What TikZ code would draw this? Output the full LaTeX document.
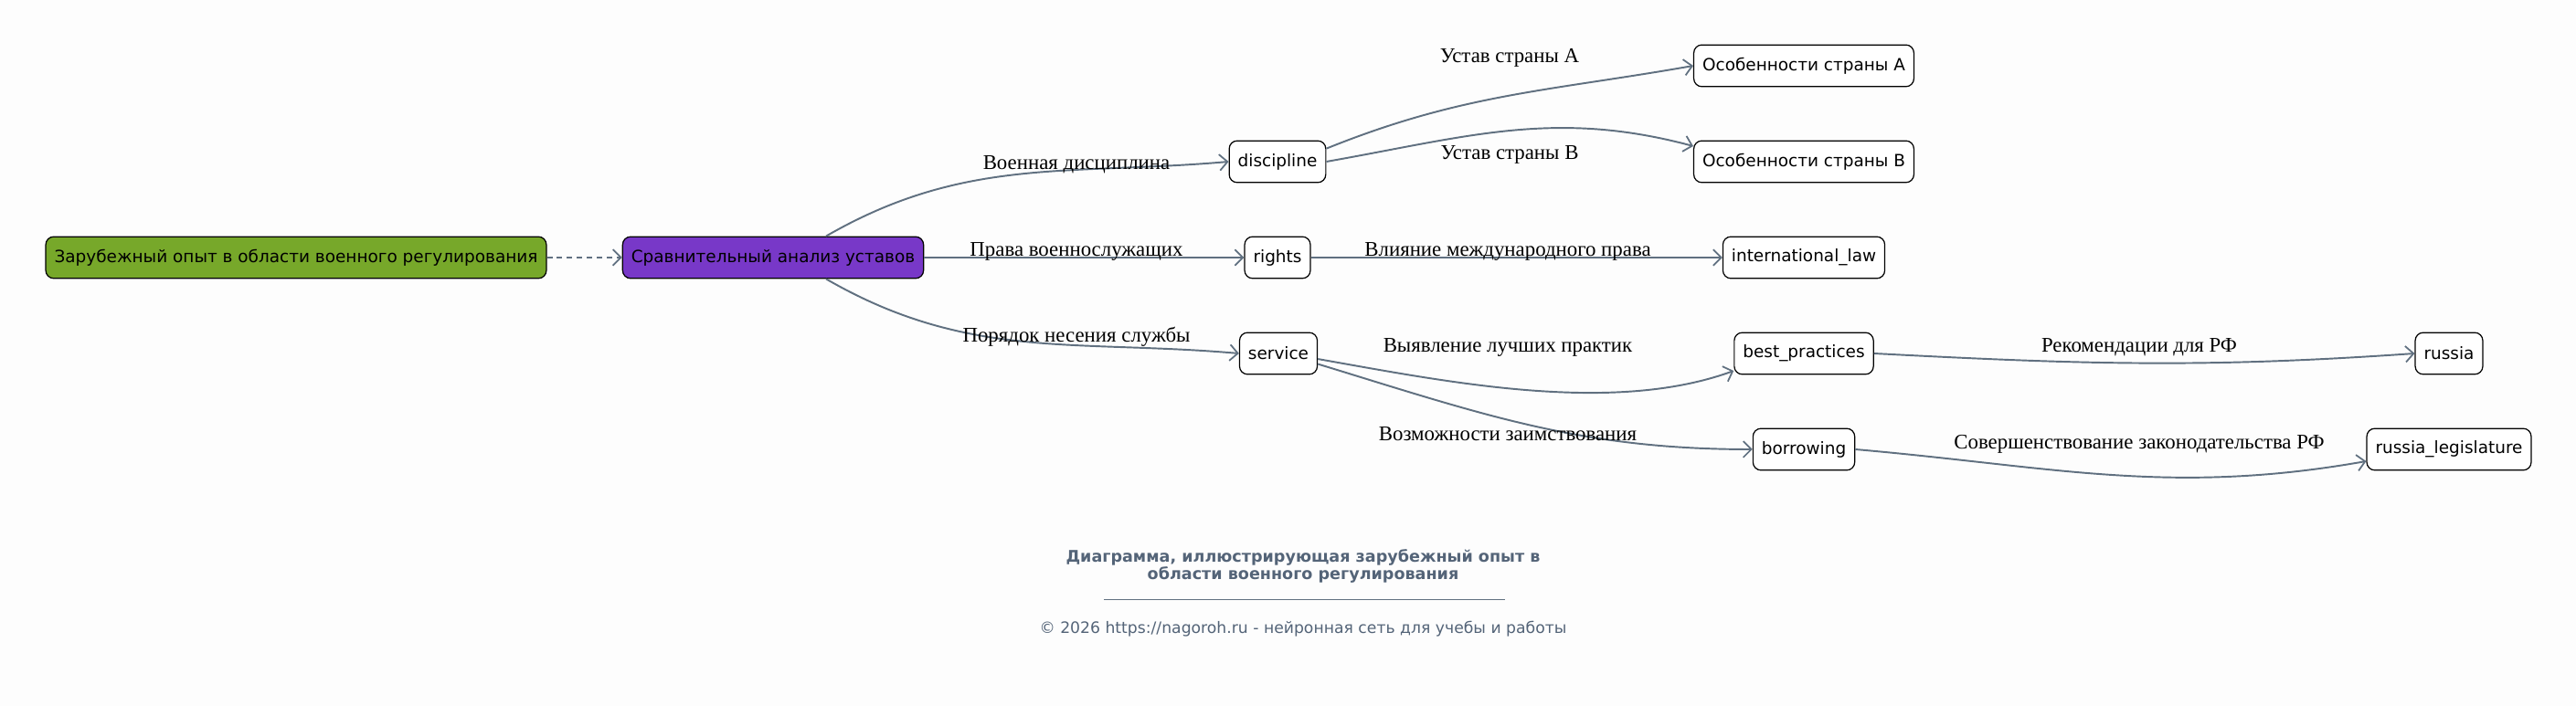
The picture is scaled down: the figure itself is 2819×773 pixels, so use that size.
\documentclass[tikz,border=0pt]{standalone}
\usepackage{fontspec}
\setmainfont{Liberation Serif}
\newfontfamily\boxfont{DejaVu Sans}
\usetikzlibrary{arrows.meta}

\definecolor{bgpaper}{RGB}{253,253,253}
\definecolor{rootgreen}{RGB}{119,168,42}
\definecolor{cmppurple}{RGB}{120,56,200}
\definecolor{wire}{RGB}{96,112,128}
\definecolor{capgray}{RGB}{84,100,120}

\begin{document}
\begin{tikzpicture}[
  x=0.02cm, y=0.02cm,
  every node/.style={inner sep=1pt},
  box/.style={draw=black, line width=0.7pt, rounded corners=5pt, fill=white,
              minimum height=26pt, inner xsep=5.4pt,
              font=\boxfont\fontsize{10.5}{12}\selectfont},
  rootbox/.style={box, fill=rootgreen},
  cmpbox/.style={box, fill=cmppurple},
  lbl/.style={font=\fontsize{13}{15}\selectfont},
  lnk/.style={-{Straight Barb[length=5pt, width=10pt, line width=1pt]},
              draw=wire, line width=1.1pt},
  dsh/.style={lnk, dash pattern=on 3.4pt off 2.8pt},
  ttl/.style={text=capgray, align=center,
              font=\boxfont\bfseries\fontsize{10}{11}\selectfont},
  cpy/.style={text=capgray, font=\boxfont\fontsize{9.8}{11}\selectfont},
]
  \fill[bgpaper] (0,0) rectangle (2819,773);
  \useasboundingbox (0,0) rectangle (2819,773);

  \node[rootbox] (root) at (324,491) {Зарубежный опыт в области военного регулирования};
  \node[cmpbox] (cmp) at (846,491) {Сравнительный анализ уставов};
  \node[box] (discipline) at (1398,596) {discipline};
  \node[box] (rights) at (1398,491) {rights};
  \node[box] (service) at (1399,386) {service};
  \node[box] (ctryA) at (1974,701) {Особенности страны A};
  \node[box] (ctryB) at (1974,596) {Особенности страны B};
  \node[box] (intlaw) at (1974,491) {international\_law};
  \node[box] (bestp) at (1974,386) {best\_practices};
  \node[box] (borrow) at (1974,281) {borrowing};
  \node[box] (russia) at (2680,386) {russia};
  \node[box] (ruslegis) at (2680,281) {russia\_legislature};

  \draw[dsh] (root) -- (cmp);
  \draw[lnk] (cmp.22) to[out=30, in=185] (discipline.west);
  \draw[lnk] (cmp) -- (rights);
  \draw[lnk] (cmp.-22) to[out=-30, in=175] (service.west);
  \draw[lnk] (discipline.15) to[out=22, in=190] (ctryA.west);
  \draw[lnk] (discipline.east) to[out=10, in=165] ([yshift=0.34cm]ctryB.west);
  \draw[lnk] (rights) -- (intlaw);
  \draw[lnk] (service.-8) to[out=-10, in=200, looseness=0.8] ([yshift=-0.38cm]bestp.west);
  \draw[lnk] (service.-15) to[out=-17, in=180] (borrow.west);
  \draw[lnk] (bestp.east) to[out=-3, in=184] (russia.west);
  \draw[lnk] (borrow.east) to[out=-5, in=190] ([yshift=-0.26cm]ruslegis.west);

  \node[lbl] (lA) at (1652,710) {Устав страны A};
  \node[lbl] (lDisc) at (1178,593) {Военная дисциплина};
  \node[lbl] (lB) at (1652,604) {Устав страны B};
  \node[lbl] (lRights) at (1178,498) {Права военнослужащих};
  \node[lbl] (lIntl) at (1650,498) {Влияние международного права};
  \node[lbl] (lServ) at (1178,404) {Порядок несения службы};
  \node[lbl] (lBest) at (1650,393) {Выявление лучших практик};
  \node[lbl] (lRus) at (2341,393) {Рекомендации для РФ};
  \node[lbl] (lBorrow) at (1650,298) {Возможности заимствования};
  \node[lbl] (lLegis) at (2341,287) {Совершенствование законодательства РФ};

  \node[ttl] (caption) at (1426,153) {Диаграмма, иллюстрирующая зарубежный опыт в\\области военного регулирования};
  \draw[wire, line width=0.5pt] (1208,117) -- (1647,117);
  \node[cpy] (copy) at (1426,84) {© 2026 https://nagoroh.ru - нейронная сеть для учебы и работы};
\end{tikzpicture}
\end{document}
